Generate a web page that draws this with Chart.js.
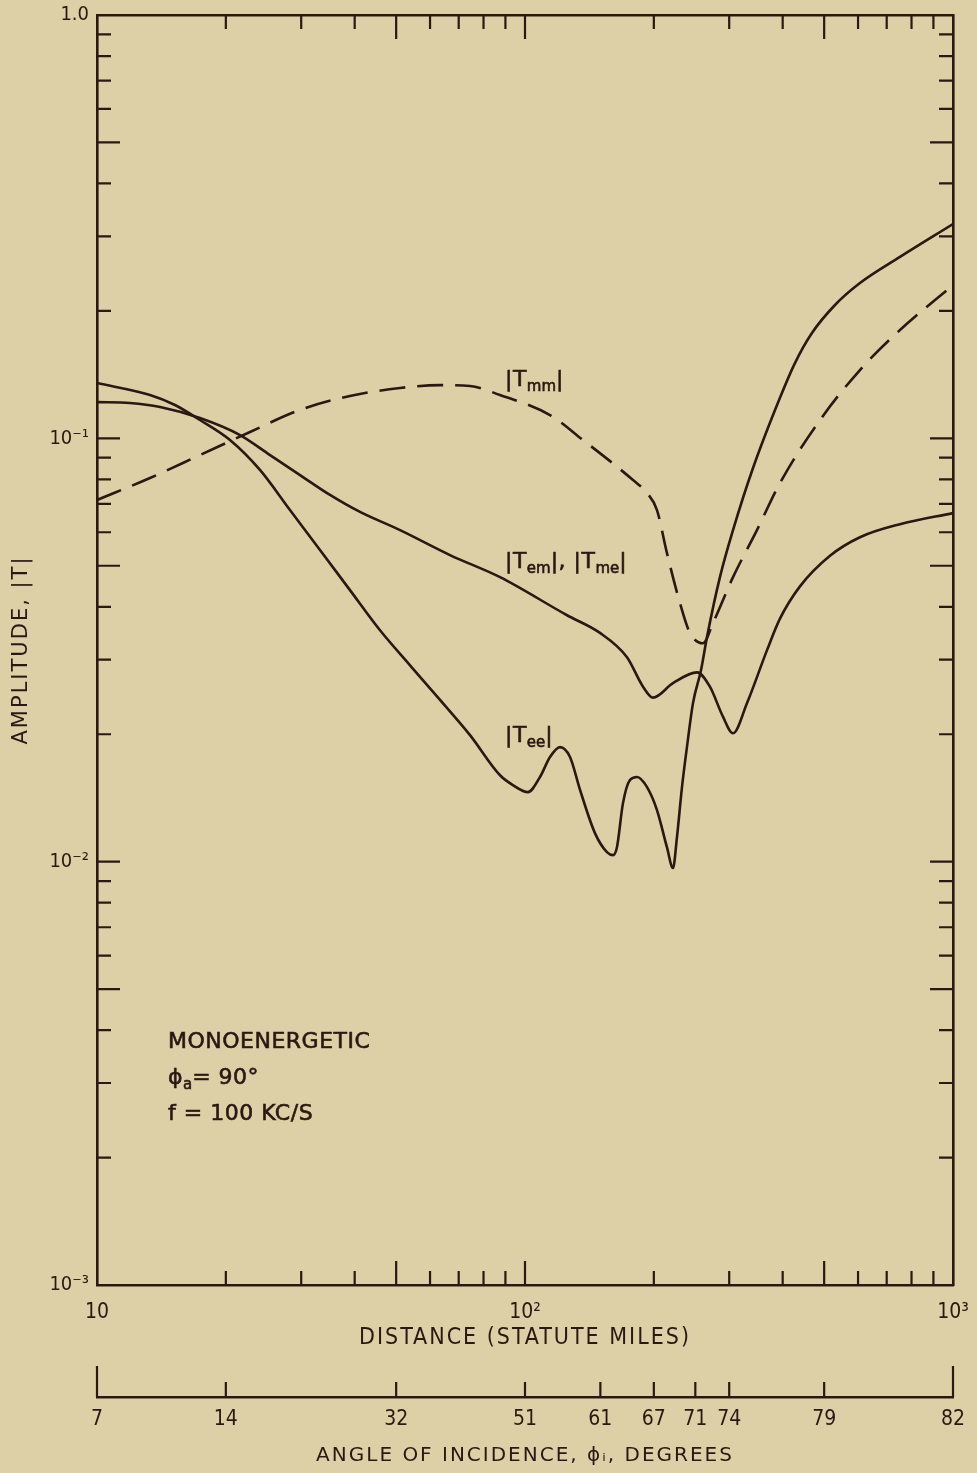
<!DOCTYPE html>
<html><head><meta charset="utf-8">
<script src="https://cdn.jsdelivr.net/npm/chart.js@4.4.0/dist/chart.umd.min.js"></script>
<style>
html,body{margin:0;padding:0;background:#ddd0a6;}
#wrap{width:977px;height:1473px;position:relative;}
canvas{display:block;}
</style></head><body>
<div id="wrap"><canvas id="c" width="977" height="1473"></canvas></div>
<script>
// ---- data (distance in statute miles, amplitude |T|) ----
const teeDistance  = [10, 13.30, 15.21, 17.40, 20.45, 24.03, 28.24, 33.19, 39.00, 45.84, 53.87, 63.31, 74.39, 87.43, 93.7, 101.6, 108.4, 114.4, 120.7, 127.4, 134.5, 145.7, 155.4, 160.6, 164.0, 169.4, 175.9, 182.7, 192.8, 203.4, 214.6, 221.7, 226.5, 232.7, 239.0, 246.9, 257.8, 266.2, 285.4, 306.2, 341.0, 394.2, 427.3, 468.2, 530.0, 606.2, 751.8, 1000];
const teeAmplitude = [0.1351, 0.1266, 0.1199, 0.1105, 0.0991, 0.0842, 0.0677, 0.0545, 0.0438, 0.0352, 0.0291, 0.0241, 0.0199, 0.0160, 0.01517, 0.0146, 0.01585, 0.01767, 0.01865, 0.01767, 0.01476, 0.01168, 0.01053, 0.01036, 0.01082, 0.01375, 0.01559, 0.01585, 0.01500, 0.01324, 0.01082, 0.00966, 0.01143, 0.01500, 0.01865, 0.02369, 0.02836, 0.03393, 0.0470, 0.0607, 0.0851, 0.1247, 0.1506, 0.1773, 0.2065, 0.2327, 0.2682, 0.3208];

const temDistance  = [10, 11.94, 14.04, 17.40, 21.59, 25.37, 29.81, 35.03, 41.16, 51.06, 66.78, 87.43, 125.4, 149.7, 173.1, 188.7, 199.1, 221.7, 252.3, 270.4, 290.1, 306.2, 330.2, 367.7, 394.2, 439.0, 515.9, 606.2, 751.8, 1000];
const temAmplitude = [0.1218, 0.1212, 0.1186, 0.1117, 0.1018, 0.0913, 0.0819, 0.0735, 0.0670, 0.0607, 0.0530, 0.0470, 0.0382, 0.0347, 0.0304, 0.0259, 0.0244, 0.0264, 0.0280, 0.0259, 0.0220, 0.0201, 0.0237, 0.0316, 0.0375, 0.0447, 0.0528, 0.0584, 0.0627, 0.0666];

const tmmDistance  = [10, 13.30, 17.40, 22.78, 29.81, 39.00, 51.06, 63.31, 74.39, 87.43, 114.4, 136.6, 178.8, 192.8, 203.4, 214.6, 230.2, 242.9, 260.5, 274.9, 306.2, 348.3, 394.2, 489.0, 606.2, 751.8, 1000];
const tmmAmplitude = [0.0715, 0.0806, 0.0913, 0.1035, 0.1167, 0.1259, 0.1315, 0.1336, 0.1329, 0.1266, 0.1135, 0.0991, 0.0797, 0.0743, 0.0677, 0.0536, 0.0408, 0.0347, 0.0328, 0.0366, 0.0470, 0.0607, 0.0784, 0.1105, 0.1450, 0.1802, 0.2302];

// ---- ticks ----
const distanceTickValues = [10, 100, 1000];
const distanceTickLabels = ['10', '10²', '10³'];
const distanceMinorMarks = [20, 30, 40, 60, 70, 80, 90, 200, 300, 400, 600, 700, 800, 900];
const distanceMajorMarks = [50, 100, 500];
const amplitudeTickValues = [0.001, 0.01, 0.1, 1];
const amplitudeTickLabels = ['10⁻³', '10⁻²', '10⁻¹', '1.0'];
const amplitudeMinorMarks = [0.002, 0.003, 0.004, 0.006, 0.007, 0.008, 0.009, 0.02, 0.03, 0.04, 0.06, 0.07, 0.08, 0.09, 0.2, 0.3, 0.4, 0.6, 0.7, 0.8, 0.9];
const amplitudeMajorMarks = [0.005, 0.01, 0.05, 0.1, 0.5];
const angleTickDistances = [10, 20, 50, 100, 150, 200, 250, 300, 500, 1000];
const angleTickLabels = ['7', '14', '32', '51', '61', '67', '71', '74', '79', '82'];

// ---- styling ----
const ink = '#2a1812';
const paper = '#ddd0a6';
const condensed = '"Liberation Sans Narrow", "DejaVu Sans Condensed", sans-serif';
const gothic = '"DejaVu Sans", sans-serif';

const zip = (xs, ys) => xs.map((x, i) => ({x: x, y: ys[i]}));

const curveLabels = [
  {distance: 89.8, amplitude: 0.1329, parts: [['|T', 0], ['mm', 1], ['|', 0]]},
  {distance: 89.8, amplitude: 0.0494, parts: [['|T', 0], ['em', 1], ['|, |T', 0], ['me', 1], ['|', 0]]},
  {distance: 89.8, amplitude: 0.01916, parts: [['|T', 0], ['ee', 1], ['|', 0]]},
  {distance: 14.65, amplitude: 0.003628, parts: [['MONOENERGETIC', 0]]},
  {distance: 14.65, amplitude: 0.00298, parts: [['ϕ', 0], ['a', 1], ['= 90°', 0]]},
  {distance: 14.65, amplitude: 0.00245, parts: [['f = 100 KC/S', 0]]}
];

const paperPlugin = {
  id: 'paper',
  beforeDraw(chart) {
    const ctx = chart.ctx;
    ctx.save();
    ctx.fillStyle = paper;
    ctx.fillRect(0, 0, chart.width, chart.height);
    ctx.restore();
    ctx.letterSpacing = '2px';
  },
  afterDatasetsDraw(chart) {
    chart.ctx.letterSpacing = '0px';
  }
};

const marksPlugin = {
  id: 'marks',
  afterDraw(chart) {
    const {ctx, chartArea: a, scales} = chart;
    const xs = scales.x, ys = scales.y, x2 = scales.x2;
    ctx.save();
    ctx.letterSpacing = '0px';
    ctx.strokeStyle = ink;
    ctx.lineWidth = 2.2;
    ctx.beginPath();
    const xMark = (v, len) => {
      const p = xs.getPixelForValue(v);
      ctx.moveTo(p, a.bottom); ctx.lineTo(p, a.bottom - len);
      ctx.moveTo(p, a.top); ctx.lineTo(p, a.top + len);
    };
    const yMark = (v, len) => {
      const p = ys.getPixelForValue(v);
      ctx.moveTo(a.left, p); ctx.lineTo(a.left + len, p);
      ctx.moveTo(a.right, p); ctx.lineTo(a.right - len, p);
    };
    distanceMinorMarks.forEach(v => xMark(v, 14));
    distanceMajorMarks.forEach(v => xMark(v, 24));
    amplitudeMinorMarks.forEach(v => yMark(v, 14));
    amplitudeMajorMarks.forEach(v => yMark(v, 23));
    angleTickDistances.forEach((v, i) => {
      const p = x2.getPixelForValue(v);
      const len = (i === 0 || i === angleTickDistances.length - 1) ? 31 : 15;
      ctx.moveTo(p, x2.top); ctx.lineTo(p, x2.top - len);
    });
    ctx.stroke();

    // text annotations anchored in data space
    ctx.fillStyle = ink;
    ctx.strokeStyle = ink;
    ctx.lineWidth = 0.6;
    ctx.textBaseline = 'alphabetic';
    ctx.textAlign = 'left';
    curveLabels.forEach(lab => {
      let px = xs.getPixelForValue(lab.distance);
      const py = ys.getPixelForValue(lab.amplitude);
      lab.parts.forEach(([t, sub]) => {
        ctx.font = sub ? '15px ' + gothic : '22px ' + gothic;
        ctx.letterSpacing = sub ? '0px' : '0.5px';
        const ty = py + (sub ? 5 : 0);
        ctx.fillText(t, px, ty);
        ctx.strokeText(t, px, ty);
        px += ctx.measureText(t).width;
      });
    });
    ctx.restore();
  }
};

const logX = {type: 'logarithmic', min: 10, max: 1000};
const logY = {type: 'logarithmic', min: 0.001, max: 1};
const frameBorder = {display: true, color: ink, width: 2.6};
const noHorizPad = s => { s.paddingLeft = 0; s.paddingRight = 0; };
const noVertPad = s => { s.paddingTop = 0; s.paddingBottom = 0; };

new Chart(document.getElementById('c'), {
  type: 'line',
  data: {
    datasets: [
      {label: '|Tee|', data: zip(teeDistance, teeAmplitude), borderColor: ink, borderWidth: 2.6, fill: false},
      {label: '|Tem|, |Tme|', data: zip(temDistance, temAmplitude), borderColor: ink, borderWidth: 2.6, fill: false},
      {label: '|Tmm|', data: zip(tmmDistance, tmmAmplitude), borderColor: ink, borderWidth: 2.6, borderDash: [26, 12], fill: false}
    ]
  },
  options: {
    responsive: false,
    animation: false,
    devicePixelRatio: 1,
    layout: {padding: 0},
    plugins: {legend: {display: false}, tooltip: {enabled: false}},
    elements: {
      point: {radius: 0, hoverRadius: 0},
      line: {cubicInterpolationMode: 'monotone', borderCapStyle: 'butt'}
    },
    scales: {
      x: Object.assign({}, logX, {
        position: 'bottom', weight: 0,
        grid: {display: false, drawTicks: false},
        border: frameBorder,
        afterBuildTicks: s => { s.ticks = distanceTickValues.map(v => ({value: v})); },
        ticks: {autoSkip: false, maxRotation: 0, padding: 15, color: ink, z: 1,
                font: {family: condensed, size: 21},
                callback: (v, i) => distanceTickLabels[i]},
        title: {display: true, text: 'DISTANCE (STATUTE MILES)', color: ink,
                font: {family: condensed, size: 23}, padding: {top: 0, bottom: 45}},
        afterFit: s => { s.height = 112; noHorizPad(s); }
      }),
      x2: Object.assign({}, logX, {
        position: 'bottom', weight: 1,
        grid: {display: false, drawTicks: false},
        border: frameBorder,
        afterBuildTicks: s => { s.ticks = angleTickDistances.map(v => ({value: v})); },
        ticks: {autoSkip: false, maxRotation: 0, padding: 10, color: ink, z: 1,
                font: {family: condensed, size: 21},
                callback: (v, i) => angleTickLabels[i]},
        title: {display: true, text: 'ANGLE OF INCIDENCE, ϕᵢ, DEGREES', color: ink,
                font: {family: gothic, size: 20}, padding: {top: 0, bottom: 5}},
        afterFit: s => { s.height = 76; noHorizPad(s); }
      }),
      xTop: Object.assign({}, logX, {
        position: 'top',
        grid: {display: false, drawTicks: false},
        border: frameBorder,
        ticks: {display: false},
        afterFit: s => { s.height = 15; noHorizPad(s); }
      }),
      y: Object.assign({}, logY, {
        position: 'left',
        grid: {display: false, drawTicks: false},
        border: frameBorder,
        afterBuildTicks: s => { s.ticks = amplitudeTickValues.map(v => ({value: v})); },
        ticks: {autoSkip: false, padding: 8, color: ink, z: 1,
                font: {family: condensed, size: 20},
                callback: (v, i) => amplitudeTickLabels[i]},
        title: {display: true, text: 'AMPLITUDE, |T|', color: ink,
                font: {family: gothic, size: 21}, padding: {top: 9, bottom: 0}},
        afterFit: s => { s.width = 97; noVertPad(s); }
      }),
      y2: Object.assign({}, logY, {
        position: 'right',
        grid: {display: false, drawTicks: false},
        border: frameBorder,
        ticks: {display: false},
        afterFit: s => { s.width = 24; noVertPad(s); }
      })
    }
  },
  plugins: [paperPlugin, marksPlugin]
});
</script>
</body></html>
